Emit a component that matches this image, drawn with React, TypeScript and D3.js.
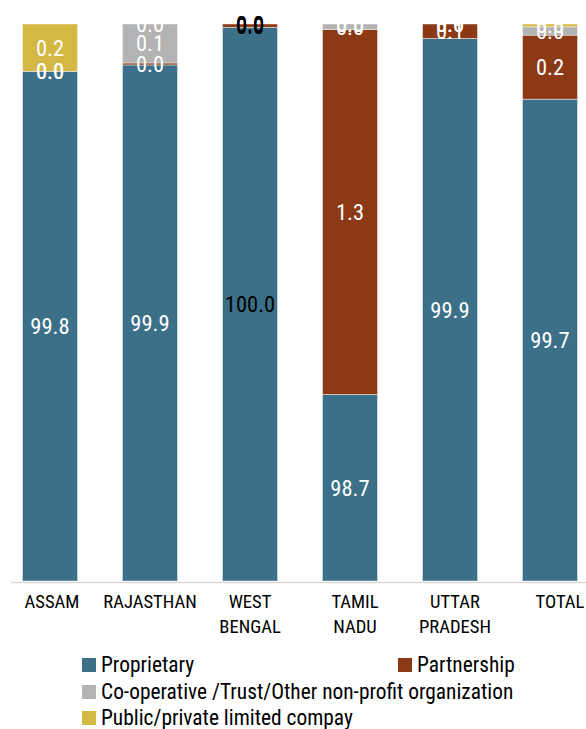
import * as d3 from "d3";

// categories + series values (percent of units by ownership type)
const categories = ["ASSAM", "RAJASTHAN", "WEST BENGAL", "TAMIL NADU", "UTTAR PRADESH", "TOTAL"];
const categoryLines = [["ASSAM"], ["RAJASTHAN"], ["WEST", "BENGAL"], ["TAMIL", "NADU"], ["UTTAR", "PRADESH"], ["TOTAL"]];
const seriesNames = [
  "Proprietary",
  "Partnership",
  "Co-operative /Trust/Other non-profit organization",
  "Public/private limited compay",
];
const proprietary = [99.83, 99.853, 99.988, 98.67, 99.948, 99.73];
const partnership = [0.0, 0.007, 0.012, 1.31, 0.052, 0.23];
const cooperative = [0.0, 0.14, 0.0, 0.02, 0.0, 0.03];
const publicPrivate = [0.17, 0.0, 0.0, 0.0, 0.0, 0.01];
const yDomain = [98, 100];
// label colour per category (west bengal labels are black in the original)
const labelColors = ["#ffffff", "#ffffff", "#000000", "#ffffff", "#ffffff", "#ffffff"];

const colors = ["#3c7089", "#8b3a15", "#b3b3b3", "#d5b843"];
const FONT = "'Roboto Condensed', 'Liberation Sans Narrow', 'Arial Narrow', 'DejaVu Sans Condensed', sans-serif";

const W = 586;
const H = 729;

export default function App() {
  const keys = ["p0", "p1", "p2", "p3"];
  const rows = categories.map((c, i) => ({
    cat: c,
    p0: proprietary[i],
    p1: partnership[i],
    p2: cooperative[i],
    p3: publicPrivate[i],
  }));
  const stacked = d3.stack<any>().keys(keys)(rows);

  const x = d3.scaleBand().domain(categories).range([0, 600]).paddingInner(0.45).paddingOuter(0.225);
  const y = d3.scaleLinear().domain(yDomain).range([581, 24]).clamp(true);
  const fmt = d3.format(".1f");

  // small nudges of the category labels, as in the original
  const labelShift = [2, 0, 0, 5, 5, 10];

  // legend layout
  const legendItems = [
    { x: 82, y: 658 },
    { x: 398, y: 658 },
    { x: 82, y: 685 },
    { x: 82, y: 711 },
  ];

  return (
    <div style={{ position: "absolute", left: 0, top: 0 }}>
      <svg width={W} height={H} style={{ display: "block", fontFamily: FONT }}>
        <defs>
          <clipPath id="plotClip">
            <rect x={0} y={24} width={W} height={H - 24} />
          </clipPath>
        </defs>
        <rect width={W} height={H} fill="#fff" />

        {/* bars */}
        {stacked.map((s, si) => (
          <g key={s.key}>
            {s.map((d, i) => (
              <rect
                key={i}
                x={x(categories[i])}
                width={x.bandwidth()}
                y={y(d[1])}
                height={Math.max(0, y(d[0]) - y(d[1]))}
                fill={colors[si]}
                stroke="#ffffff"
                strokeOpacity={0.55}
                strokeWidth={0.8}
              />
            ))}
          </g>
        ))}

        {/* axis line */}
        <line x1={11} x2={W} y1={582.5} y2={582.5} stroke="#d9d9d9" strokeWidth={1.5} />

        {/* value labels */}
        {stacked.map((s) =>
          s.map((d, i) => {
            const cx = (x(categories[i]) ?? 0) + x.bandwidth() / 2;
            const cy = (y(d[0]) + y(d[1])) / 2;
            const col = labelColors[i];
            return (
              <text
                key={s.key + i}
                x={cx}
                y={cy}
                textAnchor="middle"
                dominantBaseline="central"
                fontSize={22.5}
                fill={col}
                clipPath={col === "#ffffff" ? "url(#plotClip)" : undefined}
              >
                {fmt(d[1] - d[0])}
              </text>
            );
          })
        )}

        {/* category labels */}
        {categoryLines.map((lines, i) => {
          const cx = (x(categories[i]) ?? 0) + x.bandwidth() / 2 + labelShift[i];
          return (
            <text key={i} x={cx} y={608} textAnchor="middle" fontSize={18.6} fill="#000">
              {lines.map((l, j) => (
                <tspan key={j} x={cx} dy={j === 0 ? 0 : 25}>
                  {l}
                </tspan>
              ))}
            </text>
          );
        })}

        {/* legend */}
        {seriesNames.map((name, i) => (
          <g key={name} transform={`translate(${legendItems[i].x},${legendItems[i].y})`}>
            <rect width={14} height={14} fill={colors[i]} />
            <text x={19} y={13.5} fontSize={21.4} fill="#000">
              {name}
            </text>
          </g>
        ))}
      </svg>
    </div>
  );
}
